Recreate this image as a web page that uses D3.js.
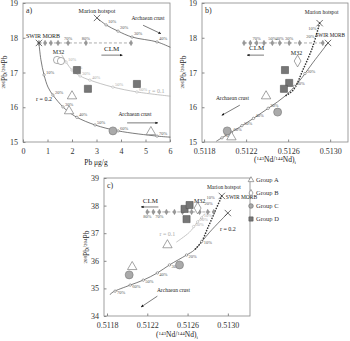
<!DOCTYPE html>
<html>
<head>
<meta charset="utf-8">
<script src="https://cdn.jsdelivr.net/npm/d3@7"></script>
<style>
  body { margin: 0; background: #fff; }
  text { font-family: "Liberation Serif", "DejaVu Serif", serif; }
</style>
</head>
<body>
<svg id="fig" width="350" height="341"></svg>
<script>
// ---------- data ----------
// panel a: Pb (ug/g) vs 206Pb/204Pb
const aSwir = [0.65, 17.85];
const aMarion = [3.02, 18.57];
const aClm = [[0.65,17.85,""],[0.90,17.85,""],[1.14,17.85,""],[1.43,17.85,""],[1.84,17.85,"70%"],[2.57,17.85,"80%"],[4.41,17.85,""]];
const aMarionCurve = [[3.02,18.57],[3.39,18.37],[3.88,18.19],[4.45,18.02],[5.47,17.88],[6.0,17.73]];
const aMarionPct = [[3.39,18.37,"10%"],[3.88,18.19,"20%"],[4.45,18.02,"30%"],[5.47,17.88,"40%"]];
const aR02 = [[0.65,17.85],[0.73,17.37],[0.86,16.93],[1.02,16.58],[1.22,16.35],[1.63,16.01],[1.88,15.86],[2.20,15.71],[2.94,15.49],[3.88,15.32],[5.47,15.17],[6.0,15.14]];
const aR02Pct = [[0.86,16.93,"10%"],[1.22,16.35,"20%"],[1.63,16.01,"30%"],[2.20,15.71,"40%"],[2.94,15.49,"50%"],[3.88,15.32,"60%"],[5.47,15.17,"70%"]];
const aR01 = [[1.59,17.50],[1.76,17.30],[2.0,17.07],[2.33,16.90],[2.73,16.78],[3.67,16.58],[4.65,16.44],[6.0,16.32]];
const aR01Pct = [[1.76,17.30,"10%"],[2.0,17.07,"20%"],[2.33,16.90,"30%"],[2.73,16.78,"40%"],[3.67,16.58,"50%"],[4.65,16.44,"60%"]];
const aGroupA = [[2.0,16.32],[1.88,15.89],[5.22,15.29]];
const aGroupB = [[1.39,17.36],[1.55,17.33]];
const aGroupC = [[3.67,15.32]];
const aGroupD = [[2.2,17.07],[2.65,16.53],[4.65,16.67]];

// panel b: (143Nd/144Nd)i vs 206Pb/204Pb
const bSwir = [0.51298, 17.85];
const bMarion = [0.51290, 18.42];
const bClm = [[0.51218,17.85,""],[0.51224,17.85,""],[0.51230,17.85,"70%"],[0.51237,17.85,""],[0.51245,17.85,"50%"],[0.51252,17.85,"40%"],[0.51261,17.85,"30%"],[0.51271,17.85,""],[0.51293,17.85,""]];
const bMarionLine = [[0.51290,18.42],[0.51283,17.71],[0.51274,17.07],[0.51265,16.50],[0.51257,16.32]];
const bMarionPct = [[0.51287,18.18,"10%"],[0.51285,17.96,"20%"]];
const bR02 = [[0.51298,17.85],[0.51284,17.30],[0.51270,16.73],[0.51257,16.32],[0.51243,16.01],[0.51229,15.72],[0.51214,15.43],[0.51203,15.23],[0.51192,15.03]];
const bR02Pct = [[0.51276,16.97,"20%"],[0.51266,16.60,"30%"],[0.51241,15.97,"30%"],[0.51227,15.68,"40%"],[0.51216,15.47,"50%"],[0.51206,15.28,"60%"],[0.51197,15.12,"70%"]];
const bGroupA = [[0.51239,16.32],[0.51206,15.14]];
const bGroupB = [[0.51269,17.33]];
const bGroupC = [[0.51250,15.86],[0.51202,15.32]];
const bGroupD = [[0.51257,17.07],[0.51261,16.70],[0.51256,16.53]];

// panel c: (143Nd/144Nd)i vs 208Pb/204Pb
const cSwir = [0.51300, 37.73];
const cMarion = [0.51294, 38.35];
const cClm = [[0.51220,37.77,"80%"],[0.51226,37.77,""],[0.51232,37.77,"70%"],[0.51239,37.77,""],[0.51247,37.77,""],[0.51255,37.77,""],[0.51264,37.77,""],[0.51272,37.77,""],[0.51280,37.77,""],[0.51286,37.77,""]];
const cMarionLine = [[0.51294,38.35],[0.51287,37.77],[0.51280,37.19],[0.51274,36.70],[0.51267,36.40]];
const cMarionPct = [[0.51288,38.20,"10%"],[0.51286,37.98,"20%"]];
const cR02 = [[0.51300,37.73],[0.51282,37.04],[0.51267,36.40],[0.51259,36.21],[0.51242,35.85],[0.51230,35.56],[0.51216,35.30],[0.51203,35.12],[0.51186,34.87],[0.51183,34.78]];
const cR02Pct = [[0.51274,36.70,"10%"],[0.51259,36.21,"20%"],[0.51242,35.85,"30%"],[0.51230,35.56,"40%"],[0.51216,35.30,"50%"],[0.51203,35.12,"60%"],[0.51188,34.90,"70%"]];
const cR01 = [[0.51277,37.70],[0.51270,37.41],[0.51262,37.04],[0.51249,36.68]];
const cR01Pct = [[0.51274,37.55,"10%"],[0.51270,37.41,"20%"],[0.51266,37.24,"30%"]];
const cGroupA = [[0.51240,36.57],[0.51205,35.78]];
const cGroupB = [[0.51270,37.91]];
const cGroupC = [[0.51202,35.49],[0.51252,35.85]];
const cGroupD = [[0.51257,37.88],[0.51262,38.02],[0.51259,37.51]];

const ndTicks = [0.5118, 0.5122, 0.5126, 0.5130];
const legendNames = ["Group A", "Group B", "Group C", "Group D"];

// ---------- drawing ----------
const svg = d3.select("#fig");
const ink = "#444";

svg.append("defs").append("marker")
  .attr("id", "arr").attr("viewBox", "0 0 10 10")
  .attr("refX", 8).attr("refY", 5)
  .attr("markerWidth", 5).attr("markerHeight", 5)
  .attr("orient", "auto")
  .append("path").attr("d", "M0,1L10,5L0,9Z").attr("fill", "#111");

function panel(o) {
  const x = d3.scaleLinear().domain(o.xd).range(o.xr);
  const y = d3.scaleLinear().domain(o.yd).range(o.yr);
  const g = svg.append("g");
  g.append("rect")
    .attr("x", o.xr[0]).attr("y", o.yr[1])
    .attr("width", o.xr[1] - o.xr[0]).attr("height", o.yr[0] - o.yr[1])
    .attr("fill", "none").attr("stroke", "#888").attr("stroke-width", 0.8);
  const gx = g.append("g").attr("transform", `translate(0,${o.yr[0]})`)
    .call(d3.axisBottom(x).tickValues(o.xt).tickFormat(o.xf).tickSizeInner(-2.5).tickSizeOuter(0).tickPadding(6));
  const gy = g.append("g").attr("transform", `translate(${o.xr[0]},0)`)
    .call(d3.axisLeft(y).tickValues(o.yt).tickFormat(d3.format("d")).tickSizeInner(-2.5).tickSizeOuter(0).tickPadding(5));
  [gx, gy].forEach(a => {
    a.select(".domain").remove();
    a.selectAll("line").attr("stroke", "#888");
    a.selectAll("text").attr("font-size", 8).attr("fill", "#333")
      .style("font-family", '"Liberation Serif", serif');
  });
  g.append("text").attr("x", o.xr[0] + 3).attr("y", o.yr[1] + 10)
    .attr("font-size", 8).attr("fill", "#333").text(o.tag);
  return { x, y, g };
}

function curve(p, pts, opt = {}) {
  const line = d3.line().x(d => p.x(d[0])).y(d => p.y(d[1])).curve(d3.curveCatmullRom);
  p.g.append("path").attr("d", line(pts)).attr("fill", "none")
    .attr("stroke", opt.color || ink).attr("stroke-width", opt.w || 0.7)
    .attr("stroke-dasharray", opt.dash || null)
    .attr("stroke-linecap", "round");
}

function pcts(p, pts, opt = {}) {
  const col = opt.color || "#555";
  if (!opt.noDot) {
    p.g.selectAll(null).data(pts).join("circle")
      .attr("cx", d => p.x(d[0])).attr("cy", d => p.y(d[1])).attr("r", 1.2)
      .attr("fill", "#fff").attr("stroke", col).attr("stroke-width", 0.5);
  }
  p.g.selectAll(null).data(pts.filter(d => d[2])).join("text")
    .attr("x", d => p.x(d[0]) + (opt.dx ?? 2)).attr("y", d => p.y(d[1]) + (opt.dy ?? -1))
    .attr("text-anchor", opt.anchor || "start")
    .attr("font-size", 4.5).attr("fill", col).text(d => d[2]);
}

function clm(p, pts, labDy) {
  p.g.append("line")
    .attr("x1", p.x(pts[0][0])).attr("x2", p.x(pts[pts.length - 1][0]))
    .attr("y1", p.y(pts[0][1])).attr("y2", p.y(pts[0][1]))
    .attr("stroke", "#777").attr("stroke-width", 0.6).attr("stroke-dasharray", "3,2");
  p.g.selectAll(null).data(pts).join("path")
    .attr("transform", d => `translate(${p.x(d[0])},${p.y(d[1])})`)
    .attr("d", d3.symbol(d3.symbolDiamond, 9))
    .attr("fill", "#999").attr("stroke", "#666").attr("stroke-width", 0.3);
  pcts(p, pts, { noDot: true, dx: 0, dy: labDy, anchor: "middle" });
}

function endMember(p, pt) {
  p.g.append("path")
    .attr("transform", `translate(${p.x(pt[0])},${p.y(pt[1])})`)
    .attr("d", d3.symbol(d3.symbolTimes, 28))
    .attr("fill", "none").attr("stroke", "#333").attr("stroke-width", 0.7);
}

function note(p, v, txt, opt = {}) {
  p.g.append("text").attr("x", p.x(v[0])).attr("y", p.y(v[1]))
    .attr("text-anchor", opt.anchor || "middle")
    .attr("font-size", opt.size || 6).attr("fill", opt.color || "#222").text(txt);
}

function arrow(p, from, to) {
  p.g.append("line")
    .attr("x1", p.x(from[0])).attr("y1", p.y(from[1]))
    .attr("x2", p.x(to[0])).attr("y2", p.y(to[1]))
    .attr("stroke", "#222").attr("stroke-width", 0.6).attr("marker-end", "url(#arr)");
}

const triSym = d3.symbol(d3.symbolTriangle, 38);
const diaSym = d3.symbol(d3.symbolDiamond, 40);
const sqSym = d3.symbol(d3.symbolSquare, 50);

function groups(p, A, B, C, D, bAsCircle) {
  p.g.selectAll(null).data(D).join("path")
    .attr("transform", d => `translate(${p.x(d[0])},${p.y(d[1])})`)
    .attr("d", sqSym).attr("fill", "#777").attr("stroke", "#555").attr("stroke-width", 0.6);
  p.g.selectAll(null).data(C).join("circle")
    .attr("cx", d => p.x(d[0])).attr("cy", d => p.y(d[1])).attr("r", 4)
    .attr("fill", "#aaa").attr("stroke", "#777").attr("stroke-width", 0.6);
  if (bAsCircle) {
    p.g.selectAll(null).data(B).join("circle")
      .attr("cx", d => p.x(d[0])).attr("cy", d => p.y(d[1])).attr("r", 3.6)
      .attr("fill", "#fff").attr("stroke", "#777").attr("stroke-width", 0.6);
  } else {
    p.g.selectAll(null).data(B).join("path")
      .attr("transform", d => `translate(${p.x(d[0])},${p.y(d[1])})`)
      .attr("d", diaSym).attr("fill", "#fff").attr("stroke", "#666").attr("stroke-width", 0.6);
  }
  p.g.selectAll(null).data(A).join("path")
    .attr("transform", d => `translate(${p.x(d[0])},${p.y(d[1])})`)
    .attr("d", triSym).attr("fill", "#fff").attr("stroke", "#666").attr("stroke-width", 0.6);
}

function yTitle(xp, yp, iso) {
  const t = svg.append("text").attr("transform", `translate(${xp},${yp}) rotate(-90)`)
    .attr("text-anchor", "middle").attr("font-size", 7.5).attr("fill", "#222");
  t.append("tspan").attr("font-size", 5).attr("dy", -2.5).text(iso);
  t.append("tspan").attr("dy", 2.5).text("Pb/");
  t.append("tspan").attr("font-size", 5).attr("dy", -2.5).text("204");
  t.append("tspan").attr("dy", 2.5).text("Pb");
}

function ndTitle(xp, yp) {
  const t = svg.append("text").attr("x", xp).attr("y", yp)
    .attr("text-anchor", "middle").attr("font-size", 7.5).attr("fill", "#222");
  t.append("tspan").text("(");
  t.append("tspan").attr("font-size", 5).attr("dy", -2.5).text("143");
  t.append("tspan").attr("dy", 2.5).text("Nd/");
  t.append("tspan").attr("font-size", 5).attr("dy", -2.5).text("144");
  t.append("tspan").attr("dy", 2.5).text("Nd)");
  t.append("tspan").attr("font-size", 5).attr("dy", 1.5).text("i");
}

const fmtNd = d3.format(".4f");

// ---- panel a ----
const pa = panel({ xd: [0, 6], xr: [23, 170], yd: [15, 19], yr: [142, 3],
  xt: [0, 1, 2, 3, 4, 5, 6], xf: d3.format("d"), yt: [15, 16, 17, 18, 19], tag: "a)" });
curve(pa, aR01, { color: "#aaa" });
curve(pa, aR02);
curve(pa, aMarionCurve);
clm(pa, aClm, -3);
pcts(pa, aR01Pct, { color: "#aaa" });
pcts(pa, aR02Pct);
pcts(pa, aMarionPct, { dy: -2 });
endMember(pa, aSwir);
endMember(pa, aMarion);
groups(pa, aGroupA, aGroupB, aGroupC, aGroupD, true);
note(pa, [0.12, 17.99], "SWIR MORB", { anchor: "start" });
note(pa, [3.02, 18.71], "Marion hotspot");
note(pa, [1.45, 17.53], "M32");
note(pa, [3.62, 17.62], "CLM", { size: 7 });
arrow(pa, [3.2, 17.50], [4.05, 17.50]);
note(pa, [5.1, 18.52], "Archaean crust", { size: 5.5 });
arrow(pa, [4.9, 18.36], [5.62, 18.12]);
note(pa, [4.57, 15.75], "Archaean crust", { size: 5.5 });
arrow(pa, [4.25, 15.55], [5.5, 15.55]);
note(pa, [0.86, 16.18], "r = 0.2");
note(pa, [5.45, 16.40], "r = 0.1", { color: "#aaa" });
yTitle(7, 72, "206");
svg.append("text").attr("x", 96).attr("y", 165).attr("text-anchor", "middle")
  .attr("font-size", 7.5).attr("fill", "#222").text("Pb μg/g");

// ---- panel b ----
const pb = panel({ xd: [0.51178, 0.51317], xr: [202, 348], yd: [15, 19], yr: [142, 3],
  xt: ndTicks, xf: fmtNd, yt: [15, 16, 17, 18, 19], tag: "b)" });
curve(pb, bR02);
curve(pb, bMarionLine, { dash: "0.1,2.6", w: 1.6, color: "#333" });
clm(pb, bClm, -3);
pcts(pb, bR02Pct);
pcts(pb, bMarionPct, { noDot: true, dx: 0, anchor: "end" });
endMember(pb, bSwir);
endMember(pb, bMarion);
groups(pb, bGroupA, bGroupB, bGroupC, bGroupD, false);
note(pb, [0.51292, 18.68], "Marion hotspot", { size: 5.5 });
note(pb, [0.51286, 18.02], "SWIR MORB", { anchor: "start", size: 5.2 });
note(pb, [0.51268, 17.50], "M32");
note(pb, [0.51230, 17.65], "CLM", { size: 7 });
arrow(pb, [0.51237, 17.50], [0.51221, 17.50]);
note(pb, [0.51207, 16.21], "Archaean crust", { size: 5.5 });
arrow(pb, [0.51214, 16.06], [0.51197, 15.77]);
yTitle(186, 72, "206");
ndTitle(275, 162);

// ---- panel c ----
const pc = panel({ xd: [0.51177, 0.51322], xr: [104, 250], yd: [34, 39], yr: [316, 178],
  xt: ndTicks, xf: fmtNd, yt: [34, 35, 36, 37, 38, 39], tag: "c)" });
curve(pc, cR01, { color: "#aaa", dash: "1.5,1" });
curve(pc, cR02);
curve(pc, cMarionLine, { dash: "0.1,2.6", w: 1.6, color: "#333" });
clm(pc, cClm, 6);
pcts(pc, cR01Pct, { color: "#aaa" });
pcts(pc, cR02Pct, { dy: 3 });
pcts(pc, cMarionPct, { noDot: true, dx: -1, anchor: "end" });
endMember(pc, cSwir);
endMember(pc, cMarion);
groups(pc, cGroupA, cGroupB, cGroupC, cGroupD, false);
note(pc, [0.51296, 38.60], "Marion hotspot", { size: 5.5 });
note(pc, [0.51298, 38.24], "SWIR MORB", { anchor: "start", size: 5.5 });
note(pc, [0.51272, 38.09], "M32");
note(pc, [0.51223, 38.09], "CLM", { size: 7 });
arrow(pc, [0.51231, 37.95], [0.51214, 37.95]);
note(pc, [0.51300, 37.08], "r = 0.2");
note(pc, [0.51240, 36.90], "r = 0.1", { color: "#aaa" });
note(pc, [0.51246, 34.88], "Archaean crust", { size: 5.5 });
arrow(pc, [0.51230, 34.72], [0.51214, 34.33]);
yTitle(89, 247, "208");
ndTitle(177, 337);

// ---- legend ----
const lg = svg.append("g").attr("transform", "translate(251,180)");
legendNames.forEach((name, i) => {
  const row = lg.append("g").attr("transform", `translate(0,${i * 13})`);
  if (i === 0) row.append("path").attr("d", d3.symbol(d3.symbolTriangle, 14)).attr("fill", "#fff").attr("stroke", "#666").attr("stroke-width", 0.6);
  if (i === 1) row.append("path").attr("d", d3.symbol(d3.symbolDiamond, 14)).attr("fill", "#fff").attr("stroke", "#666").attr("stroke-width", 0.6);
  if (i === 2) row.append("circle").attr("r", 2.3).attr("fill", "#aaa").attr("stroke", "#666").attr("stroke-width", 0.6);
  if (i === 3) row.append("path").attr("d", d3.symbol(d3.symbolSquare, 18)).attr("fill", "#777").attr("stroke", "#555").attr("stroke-width", 0.6);
  row.append("text").attr("x", 5).attr("y", 2.2).attr("font-size", 6.5).attr("fill", "#333").text(name);
});
</script>
</body>
</html>
